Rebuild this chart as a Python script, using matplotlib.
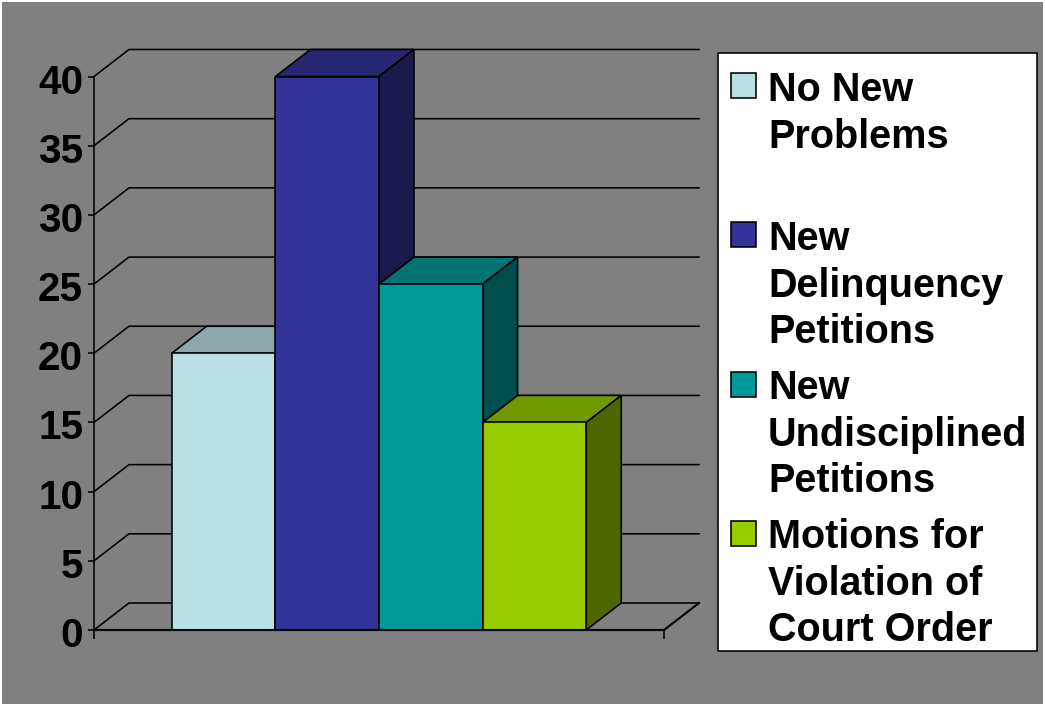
import matplotlib
matplotlib.use("Agg")
import matplotlib.pyplot as plt
from matplotlib.patches import Polygon, Rectangle
from matplotlib.transforms import ScaledTranslation

series = ["No New\nProblems", "New\nDelinquency\nPetitions",
          "New\nUndisciplined\nPetitions", "Motions for\nViolation of\nCourt Order"]
values = [20, 40, 25, 15]
front_colors = ["#BBE0E3", "#333399", "#009999", "#99CC00"]
top_colors = ["#8CA8AA", "#262673", "#007373", "#739900"]
side_colors = ["#5E7072", "#1A1A4D", "#004D4D", "#4D6600"]
y_ticks = [0, 5, 10, 15, 20, 25, 30, 35, 40]

W, H = 1045, 704
plt.rcParams["font.family"] = ["Liberation Sans", "DejaVu Sans"]
plt.rcParams["font.weight"] = "bold"
FS = 28.5
LW = 1.15

fig = plt.figure(figsize=(W / 100, H / 100), dpi=100, facecolor="white")


def box(x0, y0, x1, y1, **kw):
    fig.patches.append(Rectangle((x0 / W, 1 - y1 / H), (x1 - x0) / W, (y1 - y0) / H,
                                 transform=fig.transFigure, **kw))


box(2, 2, 1043, 704, facecolor="#808080", edgecolor="none", zorder=-5)

x_left, x_right, y_zero, y_top = 94, 664, 630, 76.5
ax = fig.add_axes([x_left / W, 1 - y_zero / H, (x_right - x_left) / W, (y_zero - y_top) / H])
ax.patch.set_visible(False)
ax.set_xlim(0, 1)
ax.set_ylim(0, 40)
for name in ["top", "right", "bottom"]:
    ax.spines[name].set_visible(False)
ax.spines["left"].set_linewidth(LW)

ax.set_yticks(y_ticks)
ax.set_xticks([0, 1])
ax.set_xticklabels(["", ""])
ax.tick_params(axis="y", length=4.3, width=LW, pad=3.6, labelsize=29.2)
ax.tick_params(axis="x", length=6.5, width=LW)
for lab in ax.get_yticklabels():
    lab.set_transform(lab.get_transform() + ScaledTranslation(0, -2 / 100, fig.dpi_scale_trans))

# 3-D depth, as axis fractions
dx = 35 / (x_right - x_left)
dy = 27 / (y_zero - y_top) * 40

# walls and floor lines
for v in y_ticks:
    ax.plot([0, dx, 1 + dx], [v, v + dy, v + dy], color="black", lw=LW, clip_on=False, zorder=1,
            solid_joinstyle="miter")
ax.plot([0, 1, 1 + dx], [0, 0, dy], color="black", lw=LW * 1.3, clip_on=False, zorder=1)

# bars
gap = 0.75
width = 1 / (len(values) + 2 * gap)
for i, v in enumerate(values):
    x0 = (gap + i) * width
    x1 = x0 + width
    z = 2 + i
    ax.add_patch(Polygon([(x0, v), (x0 + dx, v + dy), (x1 + dx, v + dy), (x1, v)],
                         facecolor=top_colors[i], edgecolor="black", lw=LW, zorder=z,
                         clip_on=False, joinstyle="miter"))
    ax.add_patch(Polygon([(x1, 0), (x1 + dx, dy), (x1 + dx, v + dy), (x1, v)],
                         facecolor=side_colors[i], edgecolor="black", lw=LW, zorder=z,
                         clip_on=False, joinstyle="miter"))
    ax.bar(x0, v, width=width, align="edge", color=front_colors[i], edgecolor="black",
           lw=LW, zorder=z, clip_on=False)

ax.plot([0, 1], [0, 0], color="black", lw=LW * 1.3, clip_on=False, zorder=10)

# legend
box(718, 53, 1037, 651, facecolor="white", edgecolor="black", lw=LW, zorder=20)
swatch_tops = [73, 222, 372, 521]
text_tops = [71, 220, 369, 518]
for name, col, sy, ty in zip(series, front_colors, swatch_tops, text_tops):
    box(731, sy, 756, sy + 25, facecolor=col, edgecolor="black", lw=LW, zorder=21)
    fig.text(768 / W, 1 - ty / H, name, fontsize=FS, fontweight="bold", color="black",
             ha="left", va="top", linespacing=1.285, zorder=22)

fig.savefig("out.png", dpi=100, facecolor=fig.get_facecolor())
